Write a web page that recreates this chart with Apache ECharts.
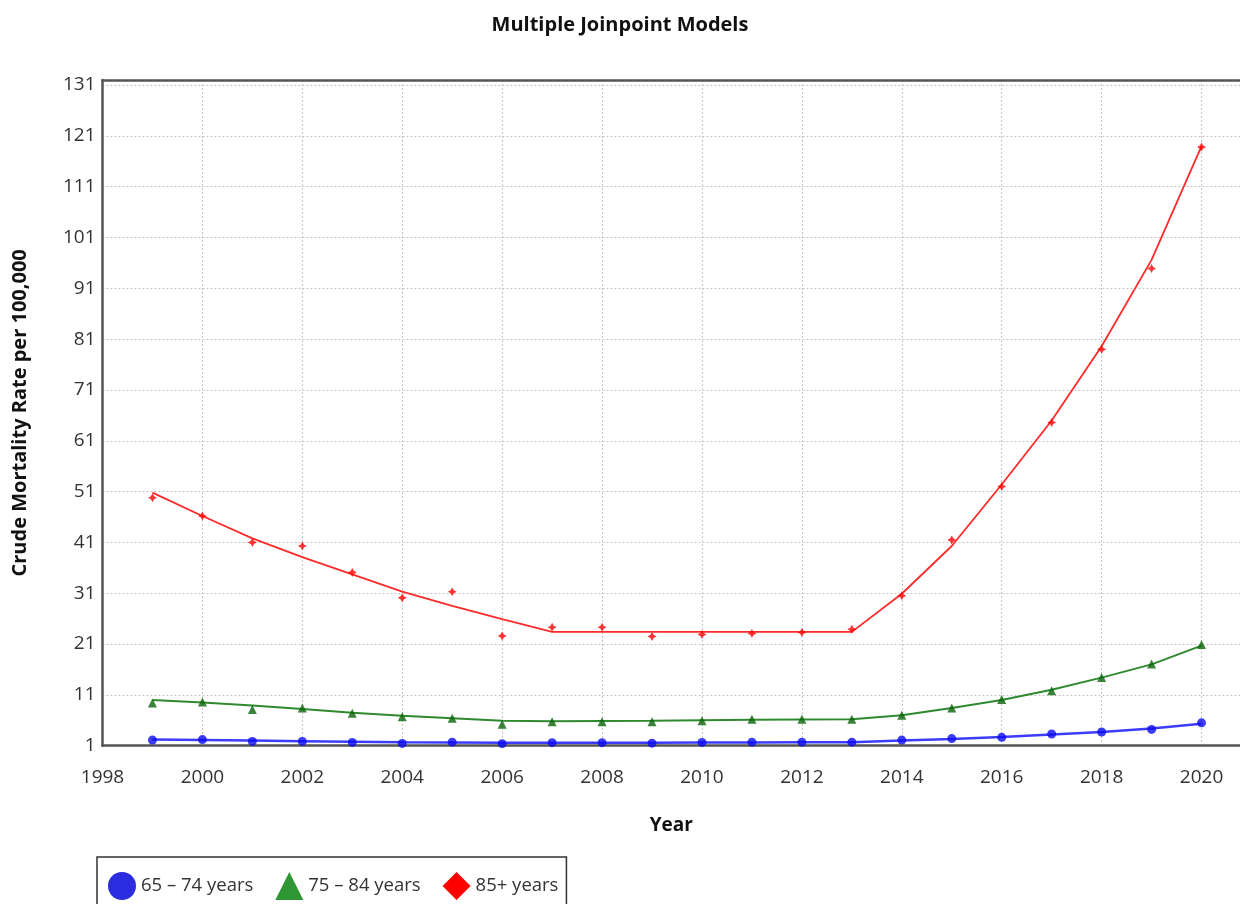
<!DOCTYPE html>
<html>
<head>
<meta charset="utf-8">
<title>Multiple Joinpoint Models</title>
<script src="https://cdn.jsdelivr.net/npm/echarts@6/dist/echarts.min.js"></script>
<style>
  html, body { margin: 0; padding: 0; background: #ffffff; }
  #chart { width: 1240px; height: 904px; }
</style>
</head>
<body>
<div id="chart"></div>
<script>
// Calendar years on the x axis
const years = [1999, 2000, 2001, 2002, 2003, 2004, 2005, 2006, 2007, 2008, 2009,
               2010, 2011, 2012, 2013, 2014, 2015, 2016, 2017, 2018, 2019, 2020];

// Age group labels
const groupNames = ['65 – 74 years', '75 – 84 years', '85+ years'];

// Observed crude mortality rates per 100,000
const observed65 = [2.1, 2.2, 1.85, 1.85, 1.65, 1.45, 1.7, 1.4, 1.6, 1.6, 1.5,
                    1.65, 1.7, 1.7, 1.7, 2.1, 2.4, 2.65, 3.3, 3.7, 4.2, 5.5];
const observed75 = [9.4, 9.6, 8.1, 8.4, 7.4, 6.7, 6.4, 5.2, 5.7, 5.7, 5.7,
                    5.9, 6.2, 6.2, 6.2, 7.0, 8.4, 10.1, 11.8, 14.4, 17.1, 20.9];
const observed85 = [49.8, 46.2, 41.0, 40.3, 35.1, 30.1, 31.3, 22.6, 24.3, 24.3, 22.5,
                    22.9, 23.1, 23.3, 23.9, 30.5, 41.5, 52.0, 64.6, 79.0, 94.9, 118.8];

// Joinpoint model fitted rates
const modeled65 = [2.2, 2.1, 2.0, 1.9, 1.8, 1.7, 1.65, 1.6, 1.6, 1.6, 1.6,
                   1.65, 1.65, 1.7, 1.7, 2.0, 2.3, 2.7, 3.2, 3.7, 4.4, 5.3];
const modeled75 = [10.0, 9.5, 8.9, 8.2, 7.5, 6.9, 6.4, 5.9, 5.8, 5.85, 5.9,
                   6.0, 6.1, 6.15, 6.2, 7.0, 8.4, 10.0, 12.0, 14.4, 17.0, 20.7];
const modeled85 = [50.8, 46.2, 41.8, 38.1, 34.7, 31.3, 28.5, 25.9, 23.4, 23.4, 23.4,
                   23.4, 23.4, 23.4, 23.4, 30.9, 40.3, 52.4, 65.0, 79.6, 96.6, 119.0];

// Axis ranges and tick spacing (the year axis runs on past 2020 to the frame edge)
const xMin = 1998, xMax = 2020.77, xStep = 2;
const yMin = 1, yMax = 132, yStep = 10;

const pair = (vals) => years.map((y, i) => [y, vals[i]]);
const onStep = (v, start, step) => {
  const k = (v - start) / step;
  return Math.abs(k - Math.round(k)) < 1e-6;
};

const FONT = '"Open Sans", "Noto Sans", sans-serif';
const TEXT = '#333333';
const FRAME = '#555555';

// Four-pointed star used for the 85+ observed rates
const starPath = 'path://M4,0 L5.4,2.6 L8,4 L5.4,5.4 L4,8 L2.6,5.4 L0,4 L2.6,2.6 Z';

const chart = echarts.init(document.getElementById('chart'), null, { renderer: 'canvas' });

const gridLine = { show: true, lineStyle: { color: '#c4c4c4', width: 1, type: [2, 2] } };

const option = {
  backgroundColor: '#ffffff',
  animation: false,
  title: {
    text: 'Multiple Joinpoint Models',
    left: 'center',
    top: 10,
    textStyle: { fontFamily: FONT, fontSize: 20, fontWeight: 'bold', color: '#111111' }
  },
  grid: {
    left: 102.5,
    right: 0,
    top: 80,
    bottom: 158.3
  },
  legend: {
    left: 97,
    top: 857,
    orient: 'horizontal',
    padding: [15, 8, 20, 11],
    itemWidth: 28,
    itemHeight: 28,
    itemGap: 22,
    borderColor: '#333333',
    borderWidth: 1.5,
    textStyle: { fontFamily: FONT, fontSize: 18.5, color: TEXT },
    data: [
      { name: groupNames[0], icon: 'circle', itemStyle: { color: '#2b2be0' } },
      { name: groupNames[1], icon: 'triangle', itemStyle: { color: '#2e9632' } },
      { name: groupNames[2], icon: 'diamond', itemStyle: { color: '#ff0000' } }
    ]
  },
  xAxis: [
    {
      type: 'value',
      min: xMin,
      max: xMax,
      interval: xStep,
      name: 'Year',
      nameLocation: 'middle',
      nameGap: 70,
      nameTextStyle: { fontFamily: FONT, fontSize: 19, fontWeight: 'bold', color: '#111111' },
      axisLine: { show: true, onZero: false, lineStyle: { color: FRAME, width: 2.5 } },
      axisTick: { show: false },
      axisLabel: {
        margin: 22,
        fontFamily: FONT,
        fontSize: 19,
        color: TEXT,
        showMaxLabel: false,
        formatter: (v) => (onStep(v, xMin, xStep) ? String(Math.round(v)) : '')
      },
      splitLine: gridLine
    },
    {
      // top frame line
      type: 'value',
      position: 'top',
      min: xMin,
      max: xMax,
      interval: xStep,
      axisLine: { show: true, onZero: false, lineStyle: { color: FRAME, width: 2.5 } },
      axisTick: { show: false },
      axisLabel: { show: false },
      splitLine: { show: false }
    }
  ],
  yAxis: {
    type: 'value',
    min: yMin,
    max: yMax,
    interval: yStep,
    name: 'Crude Mortality Rate per 100,000',
    nameLocation: 'middle',
    nameGap: 72,
    nameTextStyle: { fontFamily: FONT, fontSize: 20, fontWeight: 'bold', color: '#111111' },
    axisLine: { show: true, lineStyle: { color: FRAME, width: 2.5 } },
    axisTick: { show: false },
    axisLabel: {
      margin: 7,
      fontFamily: FONT,
      fontSize: 19,
      color: TEXT,
      formatter: (v) => (onStep(v, yMin, yStep) ? String(Math.round(v)) : '')
    },
    splitLine: gridLine
  },
  series: [
    {
      name: groupNames[0], type: 'line', data: pair(modeled65),
      showSymbol: false, symbol: 'none', smooth: false,
      lineStyle: { color: '#3c3cff', width: 2.5 }, itemStyle: { color: '#2b2be0' }, z: 2
    },
    {
      name: groupNames[0], type: 'scatter', data: pair(observed65),
      symbol: 'circle', symbolSize: 9,
      itemStyle: { color: '#0b0bf0' }, z: 3
    },
    {
      name: groupNames[1], type: 'line', data: pair(modeled75),
      showSymbol: false, symbol: 'none', smooth: false,
      lineStyle: { color: '#2f8a2f', width: 2 }, itemStyle: { color: '#2e9632' }, z: 2
    },
    {
      name: groupNames[1], type: 'scatter', data: pair(observed75),
      symbol: 'triangle', symbolSize: 9,
      itemStyle: { color: '#0a640a' }, z: 3
    },
    {
      name: groupNames[2], type: 'line', data: pair(modeled85),
      showSymbol: false, symbol: 'none', smooth: false,
      lineStyle: { color: '#ff2a2a', width: 1.8 }, itemStyle: { color: '#ff0000' }, z: 2
    },
    {
      name: groupNames[2], type: 'scatter', data: pair(observed85),
      symbol: starPath, symbolSize: 9,
      itemStyle: { color: '#ff0000' }, z: 3
    }
  ]
};

chart.setOption(option);
</script>
</body>
</html>
